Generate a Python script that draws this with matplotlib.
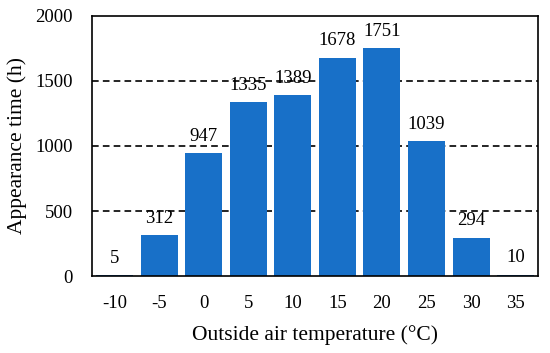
import matplotlib
matplotlib.use("Agg")
import matplotlib.pyplot as plt

temps = ["-10", "-5", "0", "5", "10", "15", "20", "25", "30", "35"]
hours = [5, 312, 947, 1335, 1389, 1678, 1751, 1039, 294, 10]
yticks = [0, 500, 1000, 1500, 2000]

plt.rcParams['font.family'] = ['Liberation Serif', 'DejaVu Serif']

fig = plt.figure(figsize=(5.5, 3.53), dpi=100)
ax = fig.add_axes([0.168, 0.218, 0.81, 0.737])

x = range(len(temps))
bars = ax.bar(x, hours, width=0.83, color='#1870C8', zorder=2)
for xi, h in zip(x, hours):
    ax.annotate(str(h), (xi, h), xytext=(0, 6), textcoords='offset points',
                ha='center', va='bottom', fontsize=13.5, zorder=3)

ax.set_xlim(-0.5, len(temps) - 0.5)
ax.set_ylim(0, 2000)
ax.set_yticks(yticks)
ax.set_xticks(list(x))
ax.set_xticklabels(temps)
for yv in yticks[1:-1]:
    ax.axhline(yv, color='black', linestyle=(0, (4, 2.5)), linewidth=1.2, zorder=1)
ax.tick_params(axis='both', length=0, labelsize=13.5)
ax.tick_params(axis='y', pad=14)
ax.tick_params(axis='x', pad=14)
for s in ax.spines.values():
    s.set_linewidth(1.2)
ax.set_ylabel("Appearance time (h)", fontsize=15.5, labelpad=6)
ax.set_xlabel("Outside air temperature (°C)", fontsize=15.5, labelpad=9)

fig.savefig("out.png", dpi=100)
